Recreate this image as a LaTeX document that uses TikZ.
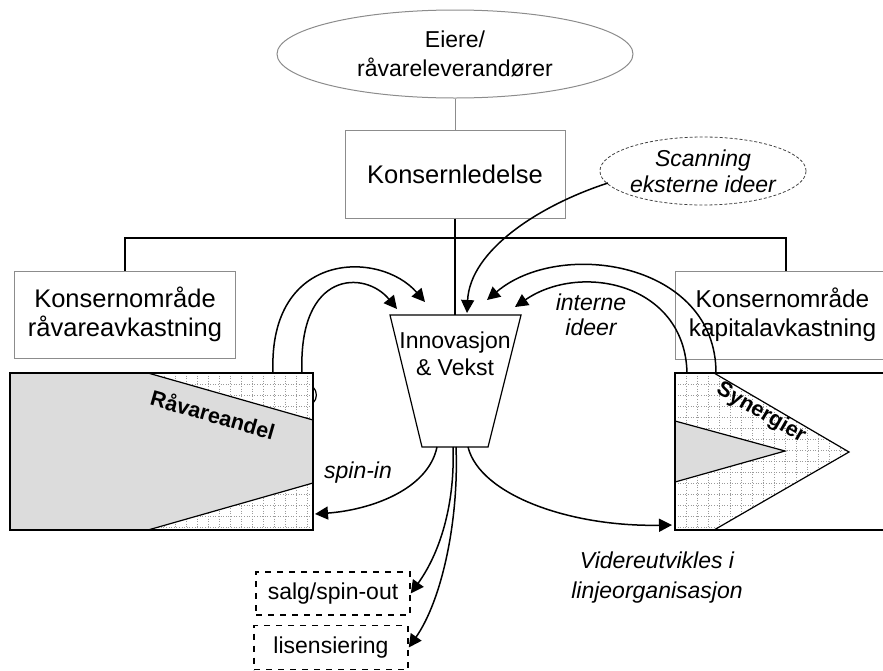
\documentclass[tikz,border=0pt]{standalone}
\usepackage{fontspec}
\setmainfont{Liberation Sans}
\usetikzlibrary{arrows.meta,shapes.geometric}

\definecolor{edgegray}{HTML}{8C8C8C}
\definecolor{sharefill}{HTML}{DCDCDC}
\definecolor{gridgray}{HTML}{9A9A9A}

\begin{document}
\begin{tikzpicture}[x=0.5pt,y=-0.5pt,
  bigtext/.style={font=\fontsize{12.75}{14.5}\selectfont, align=center},
  midtext/.style={font=\fontsize{11.5}{15}\selectfont, align=center},
  itlabel/.style={font=\itshape\fontsize{11.5}{13}\selectfont, align=center},
  unitbox/.style={draw=edgegray, line width=0.5pt, bigtext, inner sep=0pt},
  dashbox/.style={draw=black, dashed, line width=0.75pt, midtext, inner sep=0pt,
                  minimum width=77pt, minimum height=21.5pt},
  shareline/.style={draw=black, line width=0.6pt},
  gridline/.style={draw=gridgray, densely dotted, line width=0.3pt},
  flow/.style={line width=0.75pt, -{Triangle[length=6.5pt,width=6.5pt]}},
  bus/.style={line width=0.7pt},
]
\useasboundingbox (0,0) rectangle (883,670);

% ---------- top of the organisation ----------
\node[ellipse, draw=edgegray, line width=0.5pt, midtext, inner sep=0pt,
      minimum width=178pt, minimum height=44pt] (eiere) at (455,54)
      {Eiere/\\[-0.5pt]råvareleverandører};
\node[unitbox, minimum width=110pt, minimum height=44pt] (ledelse) at (455,174)
      {Konsernledelse};
\node[ellipse, draw=black!75, dash pattern=on 1.5pt off 1pt, line width=0.4pt,
      itlabel, inner sep=0pt, minimum width=97.5pt, minimum height=34pt]
      (scan) at (703,171) {Scanning\\eksterne ideer};

\node[unitbox, minimum width=110.5pt, minimum height=43.5pt] (omrR) at (125,314.5)
      {Konsernområde\\råvareavkastning};
\node[unitbox, minimum width=111pt, minimum height=44pt] (omrK) at (786,315) {};
\node[font=\fontsize{12.2}{14.5}\selectfont, align=center] (omrKtext) at (782.5,315)
      {Konsernområde\\kapitalavkastning};

\draw[edgegray, line width=0.5pt] (eiere.south) -- (ledelse.north);

% business-unit bus
\coordinate (busY) at (0,238);
\draw[bus] (omrR.north) -- (omrR.north |- busY) -- (omrK.north |- busY) -- (omrK.north);

% ---------- innovation funnel ----------
\coordinate (ivTL) at (390,315);
\coordinate (ivTR) at (521,315);
\coordinate (ivBR) at (488,447);
\coordinate (ivBL) at (422,447);
\coordinate (ivTop) at (455,315);
\draw[fill=white, line width=0.6pt] (ivTL) -- (ivTR) -- (ivBR) -- (ivBL) -- cycle;
\node[midtext, font=\fontsize{11.5}{13.5}\selectfont] (iv) at (455,354) {Innovasjon\\\& Vekst};

\draw[line width=0.75pt] (ledelse.south) -- (ivTop);

% ---------- raw-material share block ----------
\coordinate (rA) at (10,373);
\coordinate (rB) at (313,530);
\begin{scope}
  \clip (rA) rectangle (rB);
  \foreach \gx in {21,32,...,313} \draw[gridline] (\gx,373) -- (\gx,530);
  \foreach \gy in {384,395,...,530} \draw[gridline] (10,\gy) -- (313,\gy);
\end{scope}
\fill[sharefill] (10,373) -- (148,373) -- (313,420) -- (313,483) -- (148,530) -- (10,530) -- cycle;
\draw[shareline] (148,373) -- (313,420);
\draw[shareline] (148,530) -- (313,483);
\draw[line width=0.7pt] (rA) rectangle (rB);
\draw[line width=0.6pt] (313,387) .. controls (317.5,391) and (317.5,399) .. (313,403);
\node[font=\bfseries\fontsize{10.75}{12}\selectfont, rotate=-16] (share) at (213,414) {Råvareandel};

% ---------- synergy block ----------
\coordinate (sA) at (675,373);
\coordinate (sB) at (900,530);
\begin{scope}
  \clip (675,373) -- (714,373) -- (849,452) -- (714,530) -- (675,530) -- cycle;
  \foreach \gx in {686,697,...,850} \draw[gridline] (\gx,373) -- (\gx,530);
  \foreach \gy in {384,395,...,530} \draw[gridline] (675,\gy) -- (850,\gy);
\end{scope}
\fill[sharefill] (675,421) -- (785,451) -- (675,482) -- cycle;
\draw[shareline] (675,421) -- (785,451) -- (675,482);
\draw[shareline] (714,373) -- (849,452) -- (714,530);
\draw[line width=0.7pt] (sA) rectangle (sB);
\node[font=\bfseries\fontsize{10.75}{12}\selectfont, rotate=-30] (syn) at (761,413) {Synergier};

% ---------- idea flows into the funnel ----------
\coordinate (rOut1) at (273,373);
\coordinate (rOut2) at (302,373);
\coordinate (inL1) at (425,302);
\coordinate (inL2) at (397,309);
\draw[flow] (rOut1) .. controls (268,250) and (380,250) .. (inL1);
\draw[flow] (rOut2) .. controls (298,270) and (365,270) .. (inL2);

\coordinate (sOut1) at (716,373);
\coordinate (sOut2) at (687,373);
\coordinate (inR1) at (487,300);
\coordinate (inR2) at (515,307);
\draw[flow] (sOut1) .. controls (716,262) and (560,238) .. (inR1);
\draw[flow] (sOut2) .. controls (685,283) and (580,262) .. (inR2);

\coordinate (scanOut) at (608,183);
\coordinate (inS) at (467,313);
\draw[flow] (scanOut) .. controls (540,205) and (470,250) .. (inS);

\node[itlabel, font=\itshape\fontsize{11.5}{12.5}\selectfont] (interne) at (591,315) {interne\\ideer};

% ---------- flows out of the funnel ----------
\coordinate (oSpin) at (437,447);
\coordinate (oSalg) at (453,447);
\coordinate (oLis) at (456,447);
\coordinate (oLine) at (468,447);
\coordinate (spinEnd) at (315,514);
\coordinate (lineEnd) at (672,525);

\node[dashbox] (salg) at (333,593.5) {salg/spin-out};
\node[dashbox, minimum height=22pt] (lis) at (331,647.5) {lisensiering};

\draw[flow] (oSpin) .. controls (428,490) and (370,510) .. (spinEnd);
\draw[flow] (oSalg) .. controls (455,500) and (442,550) .. (salg.east);
\draw[flow] (oLis) .. controls (459,520) and (442,600) .. (lis.east);
\draw[flow] (oLine) .. controls (480,495) and (570,527) .. (lineEnd);

\node[itlabel] (spinin) at (358,473) {spin-in};
\node[itlabel, font=\itshape\fontsize{11.5}{15}\selectfont] (videre) at (657,578)
      {Videreutvikles i\\linjeorganisasjon};
\end{tikzpicture}
\end{document}
